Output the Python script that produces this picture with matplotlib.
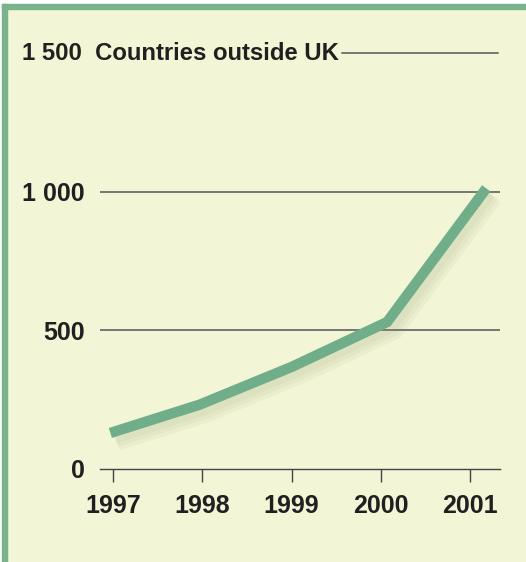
import matplotlib
matplotlib.use("Agg")
import matplotlib.pyplot as plt
import matplotlib.patheffects as pe
from matplotlib.patches import Rectangle

# values
years = [1997, 1998, 1999, 2000, 2001]
year_labels = ["1997", "1998", "1999", "2000", "2001"]
line_x = [1996.97, 1997.97, 1999.0, 2000.07, 2001.18]
countries = [130, 232, 368, 530, 1012]
y_ticks = [0, 500, 1000]
y_labels = ["0", "500", "1 000"]
top_label = "1 500"
title = "Countries outside UK"

bg = "#f2f5d6"
green = "#70ad89"
border = "#7ab28c"
ink = "#231f20"

plt.rcParams['font.family'] = ['Liberation Sans', 'DejaVu Sans']
plt.rcParams['font.weight'] = 'bold'

W, H = 526, 562
fig = plt.figure(figsize=(W/100, H/100), dpi=100, facecolor=bg)

# frame strips on top and left
fig.patches.append(Rectangle((0, 1 - 4/H), 1, 4/H, transform=fig.transFigure, color="white", zorder=0))
fig.patches.append(Rectangle((0, 0), 2/W, 1, transform=fig.transFigure, color="white", zorder=0))
fig.patches.append(Rectangle((2/W, 1 - 9/H), 1, 5/H, transform=fig.transFigure, color=border, zorder=1))
fig.patches.append(Rectangle((2/W, 0), 5/W, 1 - 4/H, transform=fig.transFigure, color=border, zorder=1))

ax = fig.add_axes([100/W, (H-469)/H, 400/W, (469-53)/H])
ax.patch.set_alpha(0)
for s in ["top", "right", "left"]:
    ax.spines[s].set_visible(False)
ax.spines["bottom"].set_color("#444444")
ax.spines["bottom"].set_linewidth(1.0)

ax.set_xlim(1996.854, 2001.334)
ax.set_ylim(0, 1500)

# soft shadow under the line
shadow = [pe.SimpleLineShadow(offset=(3 + k, -4 - k), shadow_color="#8a9268",
                              alpha=0.07, linewidth=7.5 + 3 * k) for k in range(3)]
ax.plot(line_x, countries, color=green, linewidth=7.5, solid_capstyle="butt",
        solid_joinstyle="miter", zorder=3,
        path_effects=shadow + [pe.Normal()])

for v in [500, 1000]:
    ax.axhline(v, color="#555555", linewidth=1.1, zorder=2)

ax.set_xticks(years)
ax.set_xticklabels(year_labels, fontsize=18, color=ink)
ax.tick_params(axis="x", direction="out", length=9, width=1, color="#444444", pad=9)

ax.set_yticks(y_ticks)
ax.set_yticklabels(y_labels, fontsize=18, color=ink)
ax.tick_params(axis="y", length=0, pad=11)

t = ax.text(-78/400, 1500, top_label + "  " + title, transform=ax.get_yaxis_transform(),
            fontsize=17.2, color=ink, ha="left", va="center")

fig.canvas.draw()
bb = t.get_window_extent()
x0 = ax.transAxes.inverted().transform((bb.x1 + 3, bb.y0))[0]
ax.axhline(1500, xmin=x0, xmax=0.995, color="#555555", linewidth=1.1, clip_on=False)

fig.savefig("out.png", dpi=100, facecolor=bg)
